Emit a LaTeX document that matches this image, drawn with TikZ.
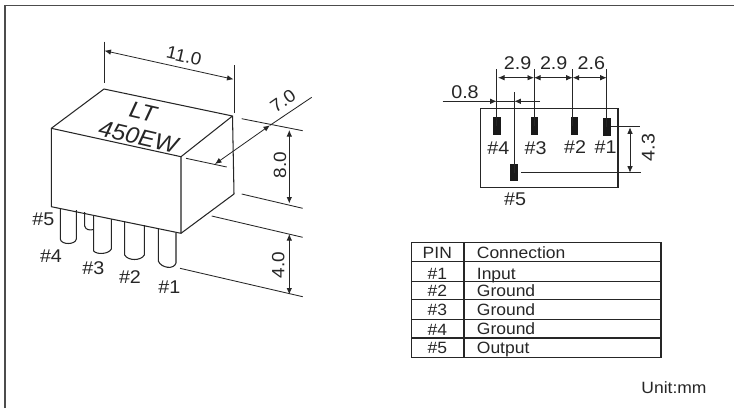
\documentclass[tikz,border=0pt]{standalone}
\usepackage{fontspec}
\setmainfont[FakeStretch=1.07]{Liberation Sans}
\usetikzlibrary{arrows.meta}
\tikzset{
  x=1bp,y=-1bp,
  ln/.style={line width=1.05bp,black!85},
  thinln/.style={line width=0.85bp,black!85},
  dim/.style={line width=0.8bp,black!85,{Latex[length=6.5bp,width=5.5bp]}-{Latex[length=6.5bp,width=5.5bp]}},
  tipend/.style={line width=0.8bp,black!85,-{Latex[length=6.5bp,width=5.5bp]}},
  txt/.style={font=\fontsize{18.5}{20}\selectfont,text=black!85,inner sep=0pt},
  dimtxt/.style={font=\fontsize{17.8}{20}\selectfont,text=black!85,inner sep=0pt},
  cell/.style={font=\fontsize{16.4}{18}\selectfont,text=black!85,inner sep=0pt},
  marking/.style={font=\fontsize{23}{25}\selectfont\itshape,text=black!85,inner sep=0pt},
  pad/.style={fill=black!90,draw=none},
  pin/.style={line width=1.05bp,black!85,fill=white}
}
\begin{document}
\begin{tikzpicture}
\useasboundingbox (0,0) rectangle (734,408);
\fill[white] (0,0) rectangle (734,408);
% frame
\draw[line width=1.5bp,black!70] (5,408) -- (5,5.7) -- (734,5.7);
% named corners of the body
\coordinate (tb) at (104,89);
\coordinate (tr) at (232.5,116);
\coordinate (tf) at (181,156.7);
\coordinate (tl) at (51.3,128.3);
\coordinate (bl) at (51.3,206.7);
\coordinate (bf) at (181,233.3);
\coordinate (br) at (234,194);
% pins
\draw[pin] (84.7,212) -- (84.7,226) .. controls (85.5,230) and (90,230.5) .. (93.5,229.5);
\draw[pin] (60.3,208) -- (60.3,239) .. controls (61,245) and (75.5,245) .. (76.3,239) -- (76.3,210);
\draw[pin] (93.7,215) -- (93.7,251) .. controls (97,255) and (109,254) .. (111.3,249) -- (111.3,219);
\draw[pin] (124.7,221) -- (124.7,255) .. controls (128,261) and (141,261) .. (144.3,255) -- (144.3,225);
\draw[pin] (158.3,229) -- (158.3,261) .. controls (161,268) and (174,270) .. (176,263) -- (176,233);
% body
\draw[ln,line join=round] (tl) -- (tb) -- (tr) -- (tf) -- cycle;
\draw[ln,line join=round] (tl) -- (bl) -- (bf) -- (tf);
\draw[ln,line join=round] (tr) -- (br) -- (bf);
% extension lines, left view
\coordinate (a1) at (104,41.7); \coordinate (a2) at (104,83.3);
\coordinate (b1) at (234,65); \coordinate (b2) at (234,113.3);
\draw[thinln] (a1) -- (a2); \draw[thinln] (b1) -- (b2);
\coordinate (c1) at (241.7,118.7); \coordinate (c2) at (302.7,130.7);
\coordinate (d1) at (186,158.3); \coordinate (d2) at (226.7,167);
\coordinate (e1) at (241.7,194); \coordinate (e2) at (302.7,208.3);
\coordinate (f1) at (211.7,216); \coordinate (f2) at (302.7,237.3);
\coordinate (g1) at (180,268.3); \coordinate (g2) at (302.7,296.7);
\foreach \p/\q in {c1/c2,d1/d2,e1/e2,f1/f2,g1/g2} \draw[thinln] (\p) -- (\q);
% dimensions, left view
\coordinate (h1) at (104.5,50.7); \coordinate (h2) at (233.5,79.3);
\draw[dim] (h1) -- (h2);
\coordinate (i1) at (311.7,97.3); \coordinate (i2) at (270,125.3); \coordinate (i3) at (215,164);
\draw[thinln] (i1) -- (i2);
\draw[dim] (i2) -- (i3);
\coordinate (j1) at (289.3,130); \coordinate (j2) at (289.3,203.5);
\coordinate (k1) at (289.3,234); \coordinate (k2) at (289.3,294.5);
\draw[dim] (j1) -- (j2); \draw[dim] (k1) -- (k2);
\node[dimtxt,rotate=-13] (t11) at (184,56) {11.0};
\node[dimtxt,rotate=35] (t7) at (283,101) {7.0};
\node[dimtxt,rotate=90] (t8) at (280,165) {8.0};
\node[dimtxt,rotate=90] (t4) at (278.3,265) {4.0};
\node[marking,rotate=-13] (lt) at (143,111.7) {LT};
\node[marking,rotate=-13] (ew) at (138.3,136.7) {450EW};
\node[txt] (l5) at (43.3,219) {\#5};
\node[txt] (l4) at (51,255.7) {\#4};
\node[txt] (l3) at (93.3,268.3) {\#3};
\node[txt] (l2) at (130,276.7) {\#2};
\node[txt] (l1) at (169.3,286.7) {\#1};
% footprint
\draw[ln] (480.7,108.7) rectangle (618,187.3);
\fill[pad] (493.3,117.3) rectangle (501,135) coordinate[pos=.5] (p4);
\fill[pad] (530.7,117.3) rectangle (538,135) coordinate[pos=.5] (p3);
\fill[pad] (570.7,116.7) rectangle (578.3,135) coordinate[pos=.5] (p2);
\fill[pad] (603.3,118.3) rectangle (610.7,135.7) coordinate[pos=.5] (p1);
\fill[pad] (510.3,164) rectangle (518,181.3) coordinate[pos=.5] (p5);
\coordinate (v4) at (496.7,69.3); \coordinate (v3) at (534,69.3);
\coordinate (v2) at (572.7,69.3); \coordinate (v1) at (606.7,69.3);
\coordinate (v5) at (514.3,92.3);
\draw[thinln] (v4) -- (v4 |- p4); \draw[thinln] (v3) -- (v3 |- p3);
\draw[thinln] (v2) -- (v2 |- p2); \draw[thinln] (v1) -- (v1 |- p1);
\draw[thinln] (v5) -- (v5 |- p5);
\coordinate (m4) at (498,77.7); \coordinate (m3) at (534,77.7);
\coordinate (m2) at (572.7,77.7); \coordinate (m1) at (606.7,77.7);
\draw[dim] (m4) -- (m3); \draw[dim] (m3) -- (m2); \draw[dim] (m2) -- (m1);
\coordinate (n0) at (442.7,101.3); \coordinate (n1) at (496.7,101.3);
\coordinate (n2) at (514.3,101.3); \coordinate (n3) at (540,101.3);
\draw[tipend] (n0) -- (n1); \draw[tipend] (n3) -- (n2);
\draw[thinln] (n1) -- (n2);
\coordinate (q1) at (610.7,126.3); \coordinate (q2) at (640,126.3);
\coordinate (r1) at (521,172.7); \coordinate (r2) at (641.3,172.7);
\draw[thinln] (q1) -- (q2); \draw[thinln] (r1) -- (r2);
\coordinate (s1) at (630,127.3); \coordinate (s2) at (630,172.7);
\draw[dim] (s1) -- (s2);
\node[txt] (d29a) at (517.7,63.3) {2.9};
\node[txt] (d29b) at (553.7,63.3) {2.9};
\node[txt] (d26) at (591.3,63.3) {2.6};
\node[txt] (d08) at (465,92.3) {0.8};
\node[txt,rotate=90] (d43) at (648.3,147.3) {4.3};
\node[txt] (f4) at (498.3,148.3) {\#4};
\node[txt] (f3) at (535.7,148.3) {\#3};
\node[txt] (f2) at (575,147.3) {\#2};
\node[txt] (f1) at (605.7,147.3) {\#1};
\node[txt] (f5) at (515,199.3) {\#5};
% table
\draw[ln] (411.7,242.3) rectangle (661,357.3);
\draw[ln] (464,242.3) -- (464,357.3);
\foreach \yy in {261.7,281.3,299.7,319.3,338} \draw[ln] (411.7,\yy) -- (661,\yy);
\node[cell,anchor=base] (c0) at (437.3,258.3) {PIN};
\node[cell,anchor=base] (c1) at (437.3,279) {\#1};
\node[cell,anchor=base] (c2) at (437.3,296.7) {\#2};
\node[cell,anchor=base] (c3) at (437.3,315.7) {\#3};
\node[cell,anchor=base] (c4) at (437.3,335) {\#4};
\node[cell,anchor=base] (c5) at (437.3,353.7) {\#5};
\node[cell,anchor=base west] (x0) at (476.7,258.3) {Connection};
\node[cell,anchor=base west] (x1) at (476.7,279) {Input};
\node[cell,anchor=base west] (x2) at (476.7,296.3) {Ground};
\node[cell,anchor=base west] (x3) at (476.7,315.7) {Ground};
\node[cell,anchor=base west] (x4) at (476.7,334.7) {Ground};
\node[cell,anchor=base west] (x5) at (476.7,353.7) {Output};
\node[cell,anchor=base] (unit) at (674,393.3) {Unit:mm};
\end{tikzpicture}
\end{document}
